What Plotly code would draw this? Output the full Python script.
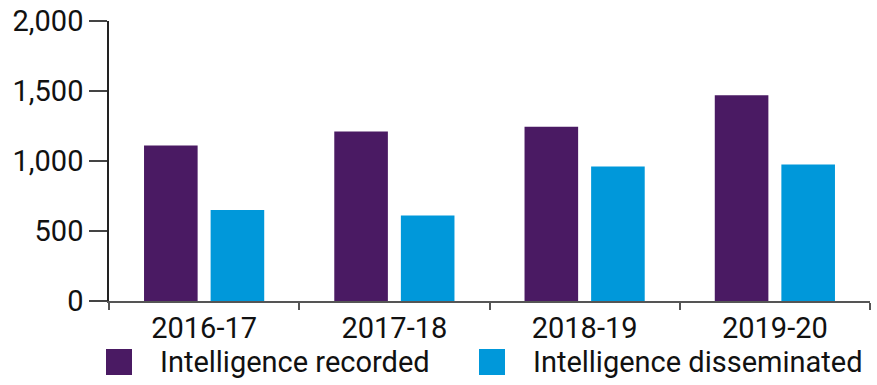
import plotly.graph_objects as go

categories = ["2016-17", "2017-18", "2018-19", "2019-20"]
recorded = [1110, 1210, 1245, 1470]
disseminated = [650, 610, 960, 975]
series_names = ["Intelligence recorded", "Intelligence disseminated"]
colors = ["#4A1A63", "#0098DA"]
y_ticks = [0, 500, 1000, 1500, 2000]
y_tick_labels = ["0", "500", "1,000", "1,500", "2,000"]

FONT = "Roboto"
FS = 29
fig = go.Figure()
for name, vals, col in zip(series_names, [recorded, disseminated], colors):
    fig.add_trace(go.Bar(x=categories, y=vals, name=name, marker_color=col,
                         marker_line_width=0, showlegend=False))

W, H = 877, 385
ml, mr, mt, mb = 109, 7, 21, 84
pw, ph = W - ml - mr, H - mt - mb

def px_x(p):
    return (p - ml) / pw

def px_y(p):
    return (H - mb - p) / ph

# custom legend (large square swatches)
legend_pos = [(106, 158), (479, 531)]
for (sx, tx), name, col in zip(legend_pos, series_names, colors):
    fig.add_shape(type="rect", xref="paper", yref="paper",
                  x0=px_x(sx), x1=px_x(sx + 26), y0=px_y(375), y1=px_y(349),
                  fillcolor=col, line_width=0)
    fig.add_annotation(xref="paper", yref="paper", x=px_x(tx), y=px_y(362),
                       text=name, showarrow=False, xanchor="left", yanchor="middle",
                       font=dict(family=FONT, size=FS, color="#111"))

fig.update_layout(
    width=W, height=H,
    margin=dict(l=ml, r=mr, t=mt, b=mb, autoexpand=False),
    paper_bgcolor="white", plot_bgcolor="white",
    barmode="group", bargap=0.30, bargroupgap=0.195,
    font=dict(family=FONT, size=FS, color="#111"),
    xaxis=dict(showline=True, linecolor="#555", linewidth=1.5, automargin=False,
               ticks="outside", tickson="boundaries", ticklen=7, tickcolor="#555",
               tickwidth=1.5, showgrid=False, tickfont=dict(size=FS)),
    yaxis=dict(range=[0, 2000], tickvals=y_ticks, ticktext=y_tick_labels,
               showline=True, linecolor="#222", linewidth=1.5, automargin=False,
               ticks="outside", ticklen=18, tickcolor="#444", tickwidth=1.5,
               showgrid=False, zeroline=False, tickfont=dict(size=FS)),
)

fig.write_html("out.html", config={"displayModeBar": False},
               post_script="document.body.style.margin='0';document.body.style.overflow='hidden';")
